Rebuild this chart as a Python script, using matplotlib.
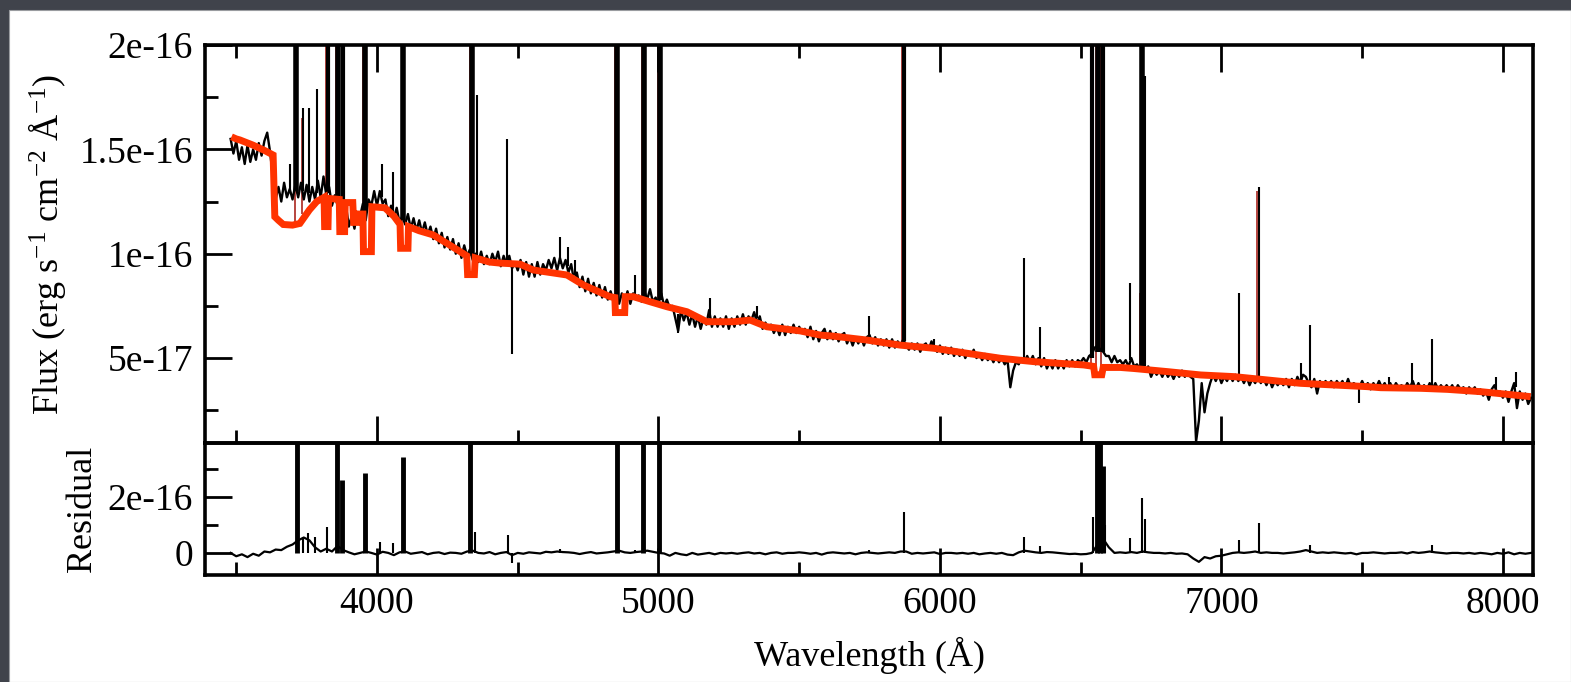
import numpy as np
import matplotlib
matplotlib.use("Agg")
import matplotlib.pyplot as plt
from matplotlib.patches import Rectangle
from matplotlib.ticker import FixedLocator

plt.rcParams['font.family'] = ['Liberation Serif', 'DejaVu Serif']
plt.rcParams['mathtext.fontset'] = 'custom'
plt.rcParams['mathtext.rm'] = 'Liberation Serif'
plt.rcParams['mathtext.default'] = 'rm'

# ---------------- data (flux in 1e-17, residual in 1e-16) ----------------
obs_start, obs_step = 3480, 10
obs_flux = [
    15.5, 14.8,                                                   # 3480-3490
    15.4, 14.5, 15.1, 14.3, 15.2, 14.4, 15.0, 14.5, 15.3, 14.7,   # 3500
    15.4, 15.8, 14.9, 13.7, 12.6, 13.2, 12.5, 13.4, 12.7, 13.1,   # 3600
    12.6, 13.3, 12.7, 13.4, 12.6, 13.3, 12.5, 13.2, 12.6, 13.5,   # 3700
    12.7, 13.7, 12.8, 13.2, 12.3, 12.8, 12.3, 12.7, 12.0, 12.3,   # 3800
    11.3, 11.8, 11.2, 12.0, 11.8, 12.4, 11.6, 12.6, 12.3, 13.0,   # 3900
    12.3, 13.0, 12.4, 12.6, 11.8, 12.3, 11.7, 12.2, 11.5, 11.8,   # 4000
    11.4, 11.9, 11.2, 11.7, 11.1, 11.6, 11.0, 11.5, 10.9, 11.3,   # 4100
    10.7, 11.2, 10.5, 11.0, 10.3, 10.8, 10.2, 10.7, 10.0, 10.5,   # 4200
    9.8, 10.4, 9.9, 10.2, 9.7, 10.0, 9.6, 10.1, 9.5, 9.9,         # 4300
    9.5, 10.0, 9.6, 10.1, 9.4, 9.9, 9.5, 9.9, 9.3, 9.6,           # 4400
    9.2, 9.7, 9.0, 9.6, 8.9, 9.5, 8.9, 9.6, 9.0, 9.5,             # 4500
    9.2, 9.7, 9.3, 9.8, 9.2, 9.8, 9.3, 9.7, 9.1, 9.5,             # 4600
    8.7, 9.1, 8.4, 8.9, 8.2, 8.8, 8.1, 8.6, 8.0, 8.5,             # 4700
    7.9, 8.4, 7.8, 8.2, 7.7, 8.1, 7.6, 8.1, 7.7, 8.2,             # 4800
    7.6, 8.1, 7.9, 8.0, 7.7, 8.2, 7.8, 8.3, 7.7, 7.9,             # 4900
    7.6, 8.1, 7.5, 7.8, 7.4, 7.5, 6.9, 6.3, 7.3, 6.8,             # 5000
    7.2, 6.6, 7.1, 6.5, 7.0, 6.4, 6.9, 6.6, 7.3, 6.5,             # 5100
    7.0, 6.5, 6.9, 6.5, 7.0, 6.4, 6.9, 6.5, 7.0, 6.6,             # 5200
    7.1, 6.6, 7.0, 6.8, 7.2, 6.7, 7.0, 6.4, 6.7, 6.4,             # 5300
    6.6, 6.2, 6.5, 6.1, 6.6, 6.1, 6.5, 6.2, 6.6, 6.2,             # 5400
    6.5, 6.2, 6.4, 6.0, 6.5, 5.9, 6.3, 5.8, 6.2, 6.4,             # 5500
    5.9, 6.3, 5.9, 6.2, 5.8, 6.1, 6.2, 5.7, 6.0, 5.6,             # 5600
    6.0, 5.7, 6.0, 5.6, 6.0, 6.1, 5.7, 6.0, 5.6, 5.9,             # 5700
    5.6, 5.9, 5.5, 5.9, 5.5, 5.8, 5.6, 5.9, 5.6, 5.4,             # 5800
    5.7, 5.4, 5.7, 5.3, 5.6, 5.7, 5.4, 5.8, 5.5, 5.3,             # 5900
    5.6, 5.2, 5.5, 5.2, 5.5, 5.1, 5.4, 5.1, 5.4, 5.0,             # 6000
    5.3, 5.1, 5.4, 5.0, 5.2, 4.9, 5.2, 4.9, 5.1, 4.8,             # 6100
    5.1, 4.8, 5.0, 4.7, 4.9, 3.6, 4.4, 4.8, 4.7, 5.0,             # 6200
    4.8, 5.1, 4.8, 5.1, 4.7, 5.0, 4.6, 5.0, 4.5, 4.8,             # 6300
    4.5, 4.9, 4.5, 4.8, 4.5, 4.9, 4.6, 4.9, 4.6, 4.9,             # 6400
    4.8, 5.0, 4.8, 5.1, 5.2, 5.5, 5.6, 5.4, 5.3, 5.1,             # 6500
    5.1, 4.8, 5.1, 4.8, 4.9, 4.7, 4.9, 4.6, 5.0, 4.6,             # 6600
    4.7, 4.5, 4.6, 4.4, 4.6, 4.1, 4.4, 4.2, 4.4, 4.1,             # 6700
    4.4, 4.1, 4.3, 4.0, 4.3, 4.1, 4.4, 4.1, 4.3, 4.1,             # 6800
    4.0, 1.0, 2.0, 3.8, 2.4, 3.3, 3.8, 4.2, 3.9, 4.2,             # 6900
    3.8, 4.1, 3.9, 4.2, 3.9, 4.2, 3.9, 4.1, 3.8, 4.1,             # 7000
    3.7, 4.0, 3.8, 4.1, 3.8, 4.0, 3.7, 4.0, 3.6, 3.9,             # 7100
    3.7, 3.9, 3.7, 4.0, 3.6, 4.0, 3.7, 4.1, 3.8, 4.2,             # 7200
    4.1, 3.8, 3.6, 4.0, 3.3, 3.9, 3.7, 3.9, 3.7, 3.9,             # 7300
    3.6, 3.9, 3.7, 3.9, 3.6, 4.0, 3.6, 3.8, 3.7, 3.6,             # 7400
    3.9, 3.6, 3.8, 3.5, 3.8, 3.6, 3.9, 3.6, 3.8, 3.5,             # 7500
    3.8, 3.5, 3.8, 3.6, 3.7, 3.5, 3.8, 3.6, 3.9, 3.5,             # 7600
    3.8, 3.5, 3.7, 3.5, 3.8, 3.5, 3.8, 3.5, 3.7, 3.5,             # 7700
    3.7, 3.5, 3.7, 3.4, 3.7, 3.5, 3.6, 3.3, 3.6, 3.4,             # 7800
    3.6, 3.3, 3.5, 3.2, 3.4, 3.0, 3.5, 3.7, 3.3, 3.4,             # 7900
    3.1, 3.4, 2.9, 3.4, 3.8, 2.6, 3.4, 3.0, 3.3, 2.8,             # 8000
    3.1,                                                          # 8100
]

# emission / absorption spikes in the observed spectrum (1e-17)
line_wave = [3691, 3714, 3738, 3760, 3788, 3827, 3860, 3880, 3957, 4017,
             4056, 4094, 4337, 4354, 4461, 4479, 4650, 4680, 4704, 4852,
             4917, 4949, 5006, 5068, 5184, 5350, 5747, 5871, 5978, 6298,
             6357, 6541, 6562, 6580, 6677, 6718, 6730, 7062, 7133, 7281,
             7316, 7488, 7596, 7678, 7749, 7974, 8045]
line_peak = [14.3, 40, 17.0, 17.0, 17.9, 21.9, 40, 38, 40, 14.3,
             13.9, 46, 40, 17.6, 15.5, 5.2, 10.8, 10.3, 9.7, 40,
             9.0, 40, 40, 6.2, 7.9, 7.5, 7.0, 21, 5.9, 9.8,
             6.5, 30, 40, 30, 8.6, 40, 18.5, 8.1, 13.2, 4.75,
             6.6, 2.85, 4.1, 4.75, 5.9, 4.1, 4.35]
line_base = [12.9, 13.0, 13.0, 12.9, 12.9, 12.9, 12.6, 12.3, 12.0, 12.7,
             12.0, 11.6, 10.0, 9.8, 9.6, 9.6, 9.5, 9.4, 9.0, 7.8,
             7.9, 7.9, 7.8, 7.1, 6.9, 6.9, 5.9, 5.8, 5.6, 5.0,
             4.8, 5.0, 5.3, 5.3, 4.9, 4.6, 4.6, 4.0, 3.9, 3.9,
             3.8, 3.7, 3.7, 3.7, 3.6, 3.5, 3.6]

# stellar model fit (1e-17)
model_wave = [3483, 3500, 3513, 3560, 3600, 3631, 3637, 3650, 3667, 3700,
              3726, 3760, 3786, 3812, 3814, 3826, 3828, 3866, 3868, 3885,
              3887, 3914, 3917, 3930, 3933, 3950, 3952, 3980, 3982, 4028,
              4060, 4082, 4084, 4110, 4112, 4150, 4200, 4260, 4319, 4322,
              4346, 4349, 4400, 4437, 4508, 4555, 4675, 4734, 4828, 4845,
              4847, 4880, 4882, 4911, 4970, 5030, 5101, 5172, 5266, 5326,
              5385, 5504, 5575, 5622, 5742, 5859, 5978, 6096, 6215, 6333,
              6511, 6546, 6550, 6575, 6580, 6641, 6689, 6808, 6926, 7045,
              7163, 7281, 7400, 7519, 7566, 7709, 7803, 7921, 8099]
model_flux = [15.6, 15.5, 15.45, 15.2, 14.95, 14.73, 11.77, 11.6, 11.4, 11.37,
              11.45, 12.1, 12.5, 12.7, 11.3, 11.3, 12.65, 12.6, 11.06, 11.06,
              12.45, 12.45, 11.5, 11.5, 11.9, 11.9, 10.1, 10.1, 12.25, 12.2,
              11.8, 11.4, 10.26, 10.26, 11.3, 11.1, 10.9, 10.4, 9.9, 9.0,
              9.0, 9.8, 9.6, 9.55, 9.5, 9.22, 8.98, 8.5, 7.94, 7.9,
              7.18, 7.18, 7.94, 7.94, 7.7, 7.46, 7.22, 6.74, 6.74, 6.82,
              6.5, 6.3, 6.1, 6.05, 5.86, 5.62, 5.47, 5.23, 4.99, 4.83,
              4.67, 4.6, 4.2, 4.2, 4.55, 4.55, 4.5, 4.35, 4.19, 4.11,
              3.95, 3.79, 3.71, 3.63, 3.58, 3.55, 3.5, 3.39, 3.15]

# thin emission-line components of the fit (1e-17)
model_line_wave = [3708, 3733, 3820, 3853, 3951, 4088, 4330, 4846, 4943, 4998,
                   5864, 6535, 6556, 6574, 6712, 7128]
model_line_base = [11.45, 11.9, 11.3, 12.6, 11.9, 11.4, 9.9, 7.9, 7.75, 7.5,
                   5.6, 4.6, 4.2, 4.4, 4.45, 3.95]
model_line_peak = [40, 16.5, 21, 40, 40, 40, 40, 40, 40, 40,
                   21, 30, 40, 30, 8.1, 13.0]

# residual (1e-16), 20 A grid
res_start, res_step = 3480, 20
res_flux = [
    0.0, -0.12, -0.05, -0.15, -0.03, -0.1, 0.05, 0.02, 0.12, 0.1,
    0.22, 0.3, 0.45, 0.55, 0.45, 0.2, 0.05, 0.15, 0.05, 0.25,
    0.1, 0.02, -0.05, 0.0, 0.05, 0.0, -0.06, 0.04, 0.0, -0.08,
    0.02, 0.05, -0.03, 0.0, 0.03, -0.05, 0.0, 0.02, -0.04, 0.01,
    0.0, -0.03, 0.05, 0.08, 0.0, -0.02, 0.03, -0.05, 0.0, 0.03,
    -0.08, 0.0, -0.03, 0.02, 0.0, -0.02, 0.04, 0.02, 0.05, 0.03,
    0.02, 0.0, -0.04, 0.0, 0.03, -0.02, 0.0, 0.02, 0.05, 0.08,
    0.02, 0.0, 0.03, 0.05, 0.08, 0.04, 0.0, -0.02, -0.1, 0.0,
    -0.05, -0.08, 0.0, -0.06, -0.03, 0.0, -0.05, 0.0, -0.02, 0.0,
    -0.03, 0.0, 0.02, -0.02, 0.0, -0.05, 0.0, 0.02, -0.03, 0.0,
    0.0, 0.02, 0.0, -0.03, 0.0, -0.06, 0.0, 0.02, 0.0, -0.02,
    0.0, -0.05, 0.0, 0.02, 0.0, -0.02, 0.0, 0.02, 0.0, 0.05,
    0.05, -0.03, 0.0, -0.02, 0.0, 0.02, -0.04, 0.0, 0.0, -0.02,
    0.0, -0.03, 0.0, -0.05, -0.02, 0.0, -0.03, 0.0, -0.06, -0.08,
    0.02, 0.08, 0.05, 0.02, 0.0, 0.03, 0.02, 0.0, -0.02, -0.04,
    -0.03, -0.05, -0.04, 0.0, 0.3, 0.5, 0.2, 0.0, 0.02, 0.0,
    0.03, 0.0, 0.05, 0.02, 0.0, 0.0, -0.02, 0.0, -0.03, -0.02,
    -0.05, -0.2, -0.32, -0.15, -0.2, -0.12, -0.1, -0.05, 0.0, 0.02,
    0.0, 0.02, 0.05, 0.0, 0.02, 0.0, 0.0, -0.02, 0.0, 0.02,
    0.05, 0.1, 0.05, 0.0, 0.02, 0.0, 0.02, 0.0, -0.02, 0.0,
    -0.05, 0.0, 0.0, 0.02, 0.0, -0.02, 0.0, 0.0, 0.02, -0.02,
    0.03, 0.0, 0.02, 0.05, 0.02, 0.0, -0.02, 0.0, 0.0, -0.02,
    0.0, -0.03, 0.0, -0.02, -0.05, 0.0, -0.03, 0.02, -0.05, 0.0,
    -0.03, 0.0,
]
res_line_wave = [3716, 3737, 3755, 3780, 3822, 3858, 3876, 3957, 4011, 4057,
                 4092, 4331, 4348, 4466, 4479, 4650, 4853, 4917, 4946, 5003,
                 5747, 5871, 6298, 6357, 6545, 6558, 6568, 6578, 6588, 6677,
                 6718, 6730, 7062, 7133, 7316, 7749]
res_line_peak = [6.0, 0.58, 0.7, 0.58, 0.93, 6.0, 2.6, 2.86, 0.4, 0.35,
                 3.43, 6.0, 0.75, 0.64, -0.36, 0.15, 6.0, 0.12, 6.0, 6.0,
                 0.12, 1.45, 0.58, 0.25, 1.3, 6.0, 6.0, 3.1, 1.0, 0.52,
                 1.95, 1.2, 0.46, 1.07, 0.28, 0.28]

flux_ticks = [5e-17, 1e-16, 1.5e-16, 2e-16]
flux_tick_labels = ['5e-17', '1e-16', '1.5e-16', '2e-16']
res_ticks = [0, 2e-16]
res_tick_labels = ['0', '2e-16']
wave_ticks = [4000, 5000, 6000, 7000, 8000]
wave_tick_labels = ['4000', '5000', '6000', '7000', '8000']

# ---------------- figure ----------------
W, H = 1571, 682
fig = plt.figure(figsize=(W / 100, H / 100), dpi=100)
fig.patch.set_facecolor('#40434b')
fig.add_artist(Rectangle((9 / W, 0), 1 - 9 / W, 1 - 10 / H, transform=fig.transFigure,
                         facecolor='white', edgecolor='#9a9ca0', lw=0.8, zorder=-5))

ax1 = fig.add_axes([205 / W, (H - 443) / H, 1328 / W, 398 / H])
ax2 = fig.add_axes([205 / W, (H - 575) / H, 1328 / W, 132 / H])
for ax in (ax1, ax2):
    ax.set_facecolor('none')
    ax.set_xlim(3389, 8107)
    for s in ax.spines.values():
        s.set_linewidth(2.6)
    ax.xaxis.set_major_locator(FixedLocator(wave_ticks))
    ax.xaxis.set_minor_locator(FixedLocator([3500, 4500, 5500, 6500, 7500]))
    ax.tick_params(which='major', direction='in', length=19.5, width=2.0,
                   labelsize=27, pad=8.5)
    ax.tick_params(which='minor', direction='in', length=9.5, width=2.0)
    ax.tick_params(right=False, which='both')

to17 = 1e-17
obs_wave = obs_start + obs_step * np.arange(len(obs_flux))
lw_lines = [4.0 if p >= 40 else (3.0 if p > 20 else 1.5) for p in line_peak]
ax1.vlines(model_line_wave, np.array(model_line_base) * to17,
           np.array(model_line_peak) * to17, colors='#a3140c', linewidths=1.1, zorder=1.5)
ax1.vlines(line_wave, np.array(line_base) * to17, np.array(line_peak) * to17,
           colors='black', linewidths=lw_lines, zorder=2)
ax1.plot(obs_wave, np.array(obs_flux) * to17, color='black', lw=1.7, zorder=2)
ax1.plot(model_wave, np.array(model_flux) * to17, color='#ff3300', lw=5.0,
         solid_joinstyle='miter', solid_capstyle='butt', zorder=3)
ax1.set_ylim(0.93e-17, 2.0e-16)
ax1.yaxis.set_major_locator(FixedLocator(flux_ticks))
ax1.yaxis.set_minor_locator(FixedLocator([2.5e-17, 7.5e-17, 1.25e-16, 1.75e-16]))
ax1.set_yticklabels(flux_tick_labels)
ax1.tick_params(axis='x', which='both', top=True, bottom=True, labelbottom=False)

res_wave = res_start + res_step * np.arange(len(res_flux))
lw_res = [3.5 if p > 2 else 1.5 for p in res_line_peak]
ax2.vlines(res_line_wave, 0, np.array(res_line_peak) * 1e-16, colors='black',
           linewidths=lw_res, zorder=2)
ax2.plot(res_wave, np.array(res_flux) * 1e-16, color='black', lw=1.6, zorder=2)
ax2.set_ylim(-0.79e-16, 3.93e-16)
ax2.yaxis.set_major_locator(FixedLocator(res_ticks))
ax2.yaxis.set_minor_locator(FixedLocator([1e-16, 3e-16]))
ax2.set_yticklabels(res_tick_labels)
ax2.set_xticklabels(wave_tick_labels)
ax2.tick_params(axis='x', which='both', top=False, bottom=True)

fig.text(47 / W, 1 - 244 / H, r'Flux (erg s$^{-1}$ cm$^{-2}$ Å$^{-1}$)',
         rotation=90, ha='center', va='center', fontsize=26)
fig.text(82 / W, 1 - 509 / H, 'Residual', rotation=90, ha='center', va='center',
         fontsize=26)
fig.text(869 / W, 1 - 655 / H, 'Wavelength (Å)', ha='center', va='center', fontsize=26)

fig.savefig('out.png', dpi=100)
